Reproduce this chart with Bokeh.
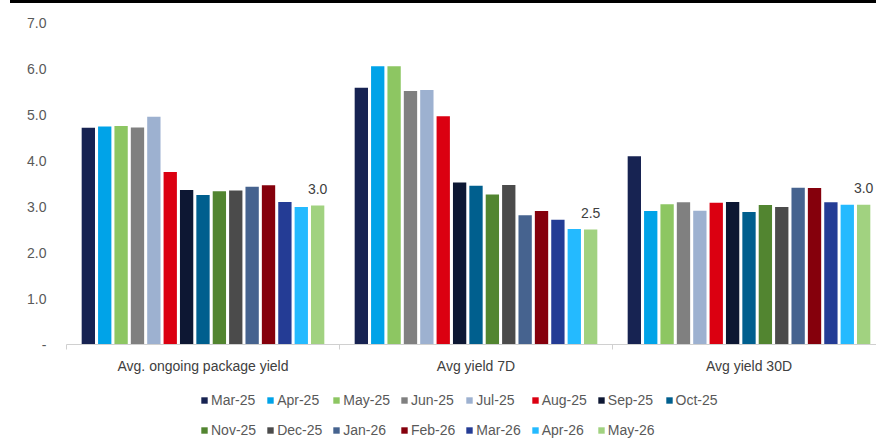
from bokeh.plotting import figure
from bokeh.models import (ColumnDataSource, FixedTicker, Legend, LegendItem, Range1d, Div,
                          InlineStyleSheet)
from bokeh.layouts import column
from bokeh.embed import file_html
from bokeh.resources import INLINE

# ---------------- data ----------------
categories = ["Avg. ongoing package yield", "Avg yield 7D", "Avg yield 30D"]
months = ["Mar-25", "Apr-25", "May-25", "Jun-25", "Jul-25", "Aug-25", "Sep-25", "Oct-25",
          "Nov-25", "Dec-25", "Jan-26", "Feb-26", "Mar-26", "Apr-26", "May-26"]
colors = ["#172352", "#00A3E8", "#8DC662", "#808080", "#9DB1D0", "#DB0011", "#0D1733", "#005F8E",
          "#528530", "#4B4B4B", "#46638F", "#85000C", "#243C95", "#24BAFF", "#A1D280"]
package_yield = [4.71, 4.74, 4.75, 4.72, 4.95, 3.75, 3.36, 3.25, 3.33, 3.35, 3.43, 3.46, 3.10, 2.99, 3.02]
yield_7d = [5.58, 6.05, 6.05, 5.51, 5.53, 4.96, 3.52, 3.45, 3.26, 3.47, 2.81, 2.90, 2.71, 2.51, 2.50]
yield_30d = [4.09, 2.90, 3.05, 3.09, 2.91, 3.08, 3.10, 2.88, 3.03, 2.99, 3.41, 3.40, 3.09, 3.04, 3.04]
y_ticks = [0, 1, 2, 3, 4, 5, 6, 7]
y_tick_labels = ["-", "1.0", "2.0", "3.0", "4.0", "5.0", "6.0", "7.0"]

series_by_group = [package_yield, yield_7d, yield_30d]

# ---------------- layout (pixels) ----------------
FONT = "Liberation Sans"
TEXT = "#595959"
RULE_H = 3
W, H = 876, 438 - RULE_H
ORIGIN_X, ORIGIN_Y = 66, 344 - RULE_H   # pixel position of data (0, 0) inside the figure
GROUP_PX = 273.0                  # pixels per category group
UNIT_PX = 46.0                    # pixels per y unit
MARGIN = 0.05                     # group side margin (group units)
SLOT = 0.06                       # bar slot width (group units)
BAR_W = 0.0488

x_start = -ORIGIN_X / GROUP_PX
x_end = (W - ORIGIN_X) / GROUP_PX
y_end = ORIGIN_Y / UNIT_PX
y_start = -(H - ORIGIN_Y) / UNIT_PX

p = figure(width=W, height=H, output_backend="svg", toolbar_location=None,
           x_range=Range1d(x_start, x_end), y_range=Range1d(y_start, y_end),
           min_border=0, min_border_left=0, min_border_right=0,
           min_border_top=0, min_border_bottom=0)
p.outline_line_color = None
p.grid.grid_line_color = None
p.background_fill_color = "white"
p.border_fill_color = "white"

n = len(months)
items = []
for j, m in enumerate(months):
    xs = [g + MARGIN + (j + 0.5) * SLOT for g in range(len(categories))]
    tops = [series_by_group[g][j] for g in range(len(categories))]
    src = ColumnDataSource(dict(x=xs, top=tops))
    r = p.vbar(x="x", top="top", width=BAR_W, source=src, fill_color=colors[j],
               line_color=None)
    items.append(LegendItem(label=m, renderers=[r]))

# data labels on last month
lx = [g + MARGIN + (n - 0.5) * SLOT for g in range(len(categories))]
ly = [series_by_group[g][-1] for g in range(len(categories))]
lt = ["%.1f" % v for v in ly]
lab_src = ColumnDataSource(dict(x=lx, y=ly, t=lt))
p.text(x="x", y="y", text="t", source=lab_src, text_align="center", text_baseline="middle",
       y_offset=-16.5, text_font_size="14px", text_color="#404040",
       text_font={"value": FONT})

# y axis
p.yaxis.fixed_location = 0
p.yaxis.bounds = (0, 7)
p.yaxis.ticker = FixedTicker(ticks=y_ticks)
p.yaxis.major_label_overrides = {t: l for t, l in zip(y_ticks, y_tick_labels)}
p.yaxis.axis_line_color = None
p.yaxis.major_tick_line_color = None
p.yaxis.minor_tick_line_color = None
p.yaxis.major_tick_out = 0
p.yaxis.major_tick_in = 0
p.yaxis.minor_tick_out = 0
p.yaxis.minor_tick_in = 0
p.yaxis.major_label_standoff = 20
p.yaxis.major_label_text_font = FONT
p.yaxis.major_label_text_font_size = "14px"
p.yaxis.major_label_text_color = TEXT

# x axis
centers = [g + 0.5 for g in range(len(categories))]
bounds = [float(g) for g in range(len(categories) + 1)]
p.xaxis.fixed_location = 0
p.xaxis.bounds = (0, len(categories))
p.xaxis.ticker = FixedTicker(ticks=centers, minor_ticks=bounds)
p.xaxis.major_label_overrides = {c: name for c, name in zip(centers, categories)}
p.xaxis.axis_line_color = "#D0D0D0"
p.xaxis.axis_line_width = 1
p.xaxis.major_tick_line_color = None
p.xaxis.major_tick_out = 0
p.xaxis.major_tick_in = 0
p.xaxis.minor_tick_line_color = "#D0D0D0"
p.xaxis.minor_tick_out = 5
p.xaxis.minor_tick_in = 0
p.xaxis.major_label_standoff = 8
p.xaxis.major_label_text_font = FONT
p.xaxis.major_label_text_font_size = "14px"
p.xaxis.major_label_text_color = "#404040"

legend = Legend(items=items, location=(200, -2), orientation="horizontal", ncols=8, nrows=2,
                glyph_width=8, glyph_height=8, label_standoff=3, spacing=10, padding=0, margin=0,
                label_height=20, label_text_font=FONT, label_text_font_size="14px",
                label_text_color=TEXT, border_line_color=None, background_fill_alpha=0)
p.add_layout(legend)

rule_w = W - 10
top_rule = Div(text='<div style="background:#000000;width:%dpx;height:%dpx;"></div>' % (rule_w, RULE_H),
               width=rule_w, height=RULE_H, margin=(0, 0, 0, 10),
               styles={"background-color": "#000000", "overflow": "hidden"},
               stylesheets=[InlineStyleSheet(css=":host { background-color: #000000; overflow: hidden; }")])

layout = column(top_rule, p, spacing=0)

open("out.html", "w").write(file_html(layout, INLINE))
